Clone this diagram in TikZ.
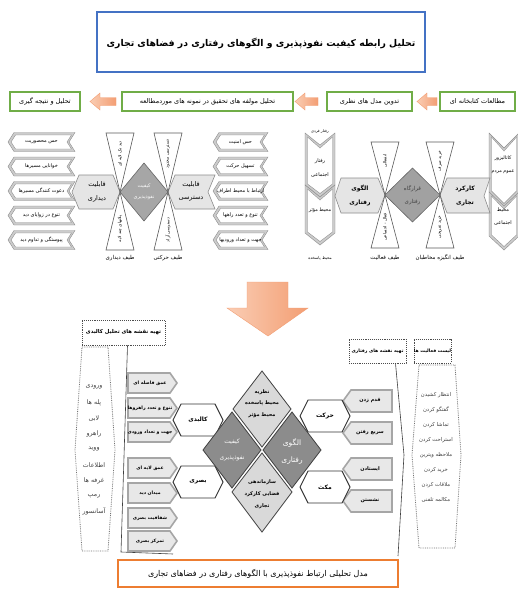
\documentclass[tikz,border=0pt]{standalone}
\usepackage{fontspec}
\TeXXeTstate=1
\newfontfamily\fa[Script=Arabic]{DejaVu Sans}
\newcommand{\fat}[1]{{\fa\beginR #1\endR}}
\definecolor{gboxc}{RGB}{112,173,71}
\definecolor{tbluec}{RGB}{68,114,196}
\definecolor{arrL}{RGB}{250,205,180}
\definecolor{arrD}{RGB}{243,158,115}
\definecolor{capc}{RGB}{237,125,49}
\tikzset{
  lab/.style={inner sep=0pt, font=\fontsize{#1}{#1}\selectfont},
  labb/.style={inner sep=0pt, font=\bfseries\fontsize{#1}{#1}\selectfont},
  greenbox/.style={draw=gboxc, line width=1.8pt, fill=white, inner sep=0pt, minimum height=19pt, font=\fontsize{6.5}{7}\selectfont},
  orarrow/.style={left color=arrL, right color=arrD, draw=arrD, line width=0.4pt},
  tri/.style={fill=white, draw=black!65, line width=0.6pt},
  shapeL/.style={fill=black!10, draw=black!45, line width=0.6pt},
  dmdark/.style={fill=black!45, draw=black!75, line width=0.8pt},
  dmlight/.style={fill=black!15, draw=black!75, line width=0.8pt},
  hexs/.style={fill=white, draw=black!80, line width=0.9pt},
  itemb/.style={fill=black!9, draw=black!35, line width=1.6pt},
  dashbox/.style={draw=black!70, densely dotted, line width=0.9pt, fill=white},
  listb/.style={draw=black!55, densely dotted, line width=0.8pt},
  connl/.style={draw=black!75, line width=0.6pt},
}
% left-pointing double chevron (top columns); #5 is already wrapped in \beginR..\endR
\newcommand{\colchev}[5]{%
  \path[fill=black!20, draw=black!45, line width=0.4pt] (#2,#4) -- (#2+6,#4-9.5) -- (#3,#4-9.5) -- (#3-6,#4) -- (#3,#4+9.5) -- (#2+6,#4+9.5) -- cycle;
  \path[fill=white, draw=black!45, line width=0.4pt] (#2+3,#4) -- (#2+7.5,#4-7) -- (#3-3.5,#4-7) -- (#3-8,#4) -- (#3-3.5,#4+7) -- (#2+7.5,#4+7) -- cycle;
  \node[lab=5] (#1) at ({(#2+#3)/2},#4) {{\fa #5}};
}
% down-pointing double chevron (vertical columns)
\newcommand{\dchev}[5]{%
  \path[fill=black!20, draw=black!45, line width=0.4pt] (#1,#3) -- ({(#1+#2)/2},#3+#5) -- (#2,#3) -- (#2,#4) -- ({(#1+#2)/2},#4+#5) -- (#1,#4) -- cycle;
  \path[fill=white, draw=black!45, line width=0.4pt] (#1+2.5,#3+4) -- ({(#1+#2)/2},#3+#5+3) -- (#2-2.5,#3+4) -- (#2-2.5,#4-1) -- ({(#1+#2)/2},#4+#5-3.5) -- (#1+2.5,#4-1) -- cycle;
}
\newcommand{\hexn}[4]{%
  \path[hexs] (#2-25,#3) -- (#2-17,#3-16) -- (#2+17,#3-16) -- (#2+25,#3) -- (#2+17,#3+16) -- (#2-17,#3+16) -- cycle;
  \node[labb=6] (#1) at (#2,#3) {{\fa #4}};
}
\newcommand{\ritem}[3]{%
  \path[itemb] (128,#2-10) -- (170,#2-10) -- (177,#2) -- (170,#2+10) -- (128,#2+10) -- cycle;
  \node[labb=4.6] (#1) at (150,#2) {{\fa #3}};
}
\newcommand{\litem}[3]{%
  \path[itemb] (343,#2) -- (351,#2-11) -- (392,#2-11) -- (392,#2+11) -- (351,#2+11) -- cycle;
  \node[labb=5] (#1) at (370,#2) {{\fa #3}};
}
\begin{document}
\begin{tikzpicture}[x=1pt,y=-1pt]
\useasboundingbox (0,0) rectangle (518,589);
\fill[white] (0,0) rectangle (518,589);

% ---------- title ----------
\draw[tbluec, line width=1.6pt] (97,12) rectangle (425,72);
\node[labb=9.3] (title) at (261,43) {\fat{تحلیل رابطه کیفیت نفوذپذیری و الگوهای رفتاری در فضاهای تجاری}};

% ---------- process row ----------
\node[greenbox, minimum width=75pt] (g1) at (477.5,101.5) {\fat{مطالعات کتابخانه ای}};
\node[greenbox, minimum width=85pt] (g2) at (369.5,101.5) {\fat{تدوین مدل های نظری}};
\node[greenbox, minimum width=171pt] (g3) at (207.5,101.5) {\fat{تحلیل مولفه های تحقیق در نمونه های موردمطالعه}};
\node[greenbox, minimum width=70pt] (g4) at (45,101.5) {\fat{تحلیل و نتیجه گیری}};
\path[orarrow] (417,101.5) -- (427,93) -- (427,97.5) -- (437,97.5) -- (437,105.5) -- (427,105.5) -- (427,110) -- cycle;
\path[orarrow] (295,101.5) -- (305,93) -- (305,97.5) -- (318,97.5) -- (318,105.5) -- (305,105.5) -- (305,110) -- cycle;
\path[orarrow] (90,101.5) -- (100,93) -- (100,97.5) -- (116,97.5) -- (116,105.5) -- (100,105.5) -- (100,110) -- cycle;

% ---------- top-left model ----------
\colchev{a1}{8}{75}{142}{\beginR حس محصوریت\endR}
\colchev{a2}{8}{75}{166.5}{\beginR خوانایی مسیرها\endR}
\colchev{a3}{8}{75}{191}{\beginR دعوت کنندگی مسیرها\endR}
\colchev{a4}{8}{75}{215.5}{\beginR تنوع در زوایای دید\endR}
\colchev{a5}{8}{75}{240}{\beginR پیوستگی و تداوم دید\endR}

\colchev{b1}{213}{268}{142}{\beginR حس امنیت\endR}
\colchev{b2}{213}{268}{166.5}{\beginR تسهیل حرکت\endR}
\colchev{b3}{213}{268}{191}{\beginR ارتباط با محیط اطراف\endR}
\colchev{b4}{213}{268}{215.5}{\beginR تنوع و تعدد راهها\endR}
\colchev{b5}{213}{268}{240}{\beginR جهت و تعداد ورودیها\endR}

\path[shapeL] (72,192) -- (79,175) -- (113,175) -- (120,192) -- (113,209) -- (79,209) -- cycle;
\node[lab=6.5] (qd1) at (97,185) {\fat{قابلیت}};
\node[lab=6.5] (qd2) at (97,199) {\fat{دیداری}};
\path[shapeL] (168,192) -- (175,175) -- (215,175) -- (208,192) -- (215,209) -- (175,209) -- cycle;
\node[lab=6.5] (qs1) at (191,185) {\fat{قابلیت}};
\node[lab=6.5] (qs2) at (191,199) {\fat{دسترسی}};

\path[tri] (106,133) -- (134,133) -- (120,192) -- cycle;
\path[tri] (106,250) -- (134,250) -- (120,192) -- cycle;
\path[tri] (154,133) -- (182,133) -- (168,192) -- cycle;
\path[tri] (154,250) -- (182,250) -- (168,192) -- cycle;
\node[lab=4.3, rotate=90] (t1) at (120,154) {\fat{دید تک لایه ای}};
\node[lab=4.3, rotate=90] (t2) at (120,229) {\fat{پلانهای چند لایه}};
\node[lab=4.3, rotate=90] (t3) at (168,154) {\fat{دسترسی محدود}};
\node[lab=4.3, rotate=90] (t4) at (168,230) {\fat{دسترسی آزاد}};

\path[fill=black!35, draw=black!60, line width=0.6pt] (120,192) -- (144,163) -- (168,192) -- (144,221) -- cycle;
\node[lab=5, text=white] (kf1) at (144,186) {\fat{کیفیت}};
\node[lab=5, text=white] (kf2) at (144,198) {\fat{نفوذپذیری}};

\node[lab=5.5] (sp1) at (120,258) {\fat{طیف دیداری}};
\node[lab=5.5] (sp2) at (168,258) {\fat{طیف حرکتی}};

% ---------- top-right model ----------
\dchev{305}{335}{133}{185}{12}
\dchev{305}{335}{185}{233}{12}
\node[lab=3.8] (ra0) at (320,132) {\fat{رفتار فردی}};
\node[lab=5] (ra1) at (320,161) {\fat{رفتار}};
\node[lab=5] (ra2) at (320,175) {\fat{اجتماعی}};
\node[lab=4.8] (ra3) at (320,210) {\fat{محیط مؤثر}};
\node[lab=4] (ra4) at (320,258) {\fat{محیط پاسخده}};

\dchev{489}{519}{133}{192}{15}
\dchev{489}{519}{192}{236}{14}
\node[lab=4.8] (rb1) at (503,158) {\fat{کاتالیزور}};
\node[lab=4.8] (rb2) at (503,172) {\fat{عموم مردم}};
\node[lab=5] (rb3) at (503,210) {\fat{محیط}};
\node[lab=5] (rb4) at (503,223) {\fat{اجتماعی}};

\path[shapeL] (335,196) -- (341,178) -- (378,178) -- (385,195) -- (378,213) -- (341,213) -- cycle;
\node[labb=6] (al1) at (360,189) {\fat{الگوی}};
\node[labb=6] (al2) at (360,203) {\fat{رفتاری}};
\path[shapeL] (440,195) -- (447,178) -- (490,178) -- (484,196) -- (490,213) -- (447,213) -- cycle;
\node[labb=6] (kk1) at (465,189) {\fat{کارکرد}};
\node[labb=6] (kk2) at (465,203) {\fat{تجاری}};

\path[tri] (371,142) -- (399,142) -- (385,195) -- cycle;
\path[tri] (371,248) -- (399,248) -- (385,195) -- cycle;
\path[tri] (426,142) -- (454,142) -- (440,195) -- cycle;
\path[tri] (426,248) -- (454,248) -- (440,195) -- cycle;
\node[lab=4.3, rotate=90] (t5) at (385,161) {\fat{انفعالی}};
\node[lab=4.3, rotate=90] (t6) at (385,227) {\fat{فعال - اجتماعی}};
\node[lab=4.3, rotate=90] (t7) at (440,161) {\fat{خرید صرف}};
\node[lab=4.3, rotate=90] (t8) at (440,227) {\fat{خرید تفریحی}};

\path[fill=black!37, draw=black!60, line width=0.6pt] (385,195) -- (412.5,168) -- (440,195) -- (412.5,222) -- cycle;
\node[lab=5.5, text=black!75] (qr1) at (412.5,189) {\fat{قرارگاه}};
\node[lab=5.5, text=black!75] (qr2) at (412.5,202) {\fat{رفتاری}};

\node[lab=5.5] (sp3) at (385,258) {\fat{طیف فعالیت}};
\node[lab=5.5] (sp4) at (440,258) {\fat{طیف انگیزه مخاطبان}};

% ---------- big arrow ----------
\path[orarrow] (247,282) -- (288,282) -- (288,308) -- (308,308) -- (268,336) -- (227,308) -- (247,308) -- cycle;

% ---------- bottom model ----------
\node[dashbox, labb=5.3, minimum width=83pt, minimum height=25pt] (m1) at (123.5,332.5) {\fat{تهیه نقشه های تحلیل کالبدی}};
\node[dashbox, labb=4.6, minimum width=57pt, minimum height=24pt] (m2) at (377.5,351) {\fat{تهیه نقشه های رفتاری}};
\node[dashbox, labb=4.6, minimum width=37pt, minimum height=24pt] (m3) at (432.5,351) {\fat{لیست فعالیت ها}};

\path[listb] (82,347) -- (108,347) -- (115,450) -- (108,551) -- (82,551) -- (75,450) -- cycle;
\path[listb] (419,365) -- (455,365) -- (461,455) -- (455,548) -- (419,548) -- (412,455) -- cycle;

\coordinate (c1) at (121,552);
\coordinate (c2) at (173,554);
\coordinate (c3) at (404,455);
\coordinate (c4) at (398,556);
\draw[connl] ([xshift=4pt]m1.south) -- (c1) -- (c2);
\draw[connl] ([xshift=18pt]m2.south) -- (c3) -- (c4);

\node[lab=6.3, text=black!75] (l1) at (94,387) {\fat{ورودی}};
\node[lab=6.3, text=black!75] (l2) at (94,402.6) {\fat{پله ها}};
\node[lab=6.3, text=black!75] (l3) at (94,418.2) {\fat{لابی}};
\node[lab=6.3, text=black!75] (l4) at (94,433.8) {\fat{راهرو}};
\node[lab=6.3, text=black!75] (l5) at (94,449.4) {\fat{ووید}};
\node[lab=6.3, text=black!75] (l6) at (94,465) {\fat{اطلاعات}};
\node[lab=6.3, text=black!75] (l7) at (94,480.6) {\fat{غرفه ها}};
\node[lab=6.3, text=black!75] (l8) at (94,496.2) {\fat{رمپ}};
\node[lab=6.3, text=black!75] (l9) at (94,511.8) {\fat{آسانسور}};

\node[lab=5.3, text=black!75] (f1) at (436,395) {\fat{انتظار کشیدن}};
\node[lab=5.3, text=black!75] (f2) at (436,410) {\fat{گفتگو کردن}};
\node[lab=5.3, text=black!75] (f3) at (436,425) {\fat{تماشا کردن}};
\node[lab=5.3, text=black!75] (f4) at (436,440) {\fat{استراحت کردن}};
\node[lab=5.3, text=black!75] (f5) at (436,455) {\fat{ملاحظه ویترین}};
\node[lab=5.3, text=black!75] (f6) at (436,470) {\fat{خرید کردن}};
\node[lab=5.3, text=black!75] (f7) at (436,485) {\fat{ملاقات کردن}};
\node[lab=5.3, text=black!75] (f8) at (436,500) {\fat{مکالمه تلفنی}};

\ritem{i1}{383}{\beginR عمق فاصله ای\endR}
\ritem{i2}{408}{\beginR تنوع و تعدد راهروها\endR}
\ritem{i3}{432}{\beginR جهت و تعداد ورودی\endR}
\ritem{i4}{468}{\beginR عمق لایه ای\endR}
\ritem{i5}{493}{\beginR میدان دید\endR}
\ritem{i6}{518}{\beginR شفافیت بصری\endR}
\ritem{i7}{541}{\beginR تمرکز بصری\endR}

\litem{j1}{401}{\beginR قدم زدن\endR}
\litem{j2}{433}{\beginR سریع رفتن\endR}
\litem{j3}{469}{\beginR ایستادن\endR}
\litem{j4}{501}{\beginR نشستن\endR}

\hexn{h1}{198}{420}{\beginR کالبدی\endR}
\hexn{h2}{198}{482}{\beginR بصری\endR}
\hexn{h3}{325}{416}{\beginR حرکت\endR}
\hexn{h4}{325}{487}{\beginR مکث\endR}

\path[dmlight] (262,371) -- (291,409) -- (262,447) -- (233,409) -- cycle;
\path[dmdark] (232,412) -- (261,450) -- (232,488) -- (203,450) -- cycle;
\path[dmdark] (292,412) -- (321,450) -- (292,488) -- (263,450) -- cycle;
\path[dmlight] (262,453) -- (292,492) -- (262,532) -- (232,492) -- cycle;

\node[labb=5] (d1) at (262,392) {\fat{نظریه}};
\node[labb=5] (d2) at (262,403) {\fat{محیط پاسخده}};
\node[labb=5] (d3) at (262,415) {\fat{محیط مؤثر}};
\node[lab=6, text=white] (d4) at (232,442) {\fat{کیفیت}};
\node[lab=6, text=white] (d5) at (232,458) {\fat{نفوذپذیری}};
\node[lab=7.5, text=white] (d6) at (292,443) {\fat{الگوی}};
\node[lab=7.5, text=white] (d7) at (292,461) {\fat{رفتاری}};
\node[labb=5] (d8) at (262,482) {\fat{سازماندهی}};
\node[labb=5] (d9) at (262,494) {\fat{فضایی کارکرد}};
\node[labb=5] (d10) at (262,506) {\fat{تجاری}};

% ---------- caption ----------
\node[draw=capc, line width=1.3pt, lab=8, minimum width=280pt, minimum height=27pt] (cap) at (258,573.5) {\fat{مدل تحلیلی ارتباط نفوذپذیری با الگوهای رفتاری در فضاهای تجاری}};
\end{tikzpicture}
\end{document}
